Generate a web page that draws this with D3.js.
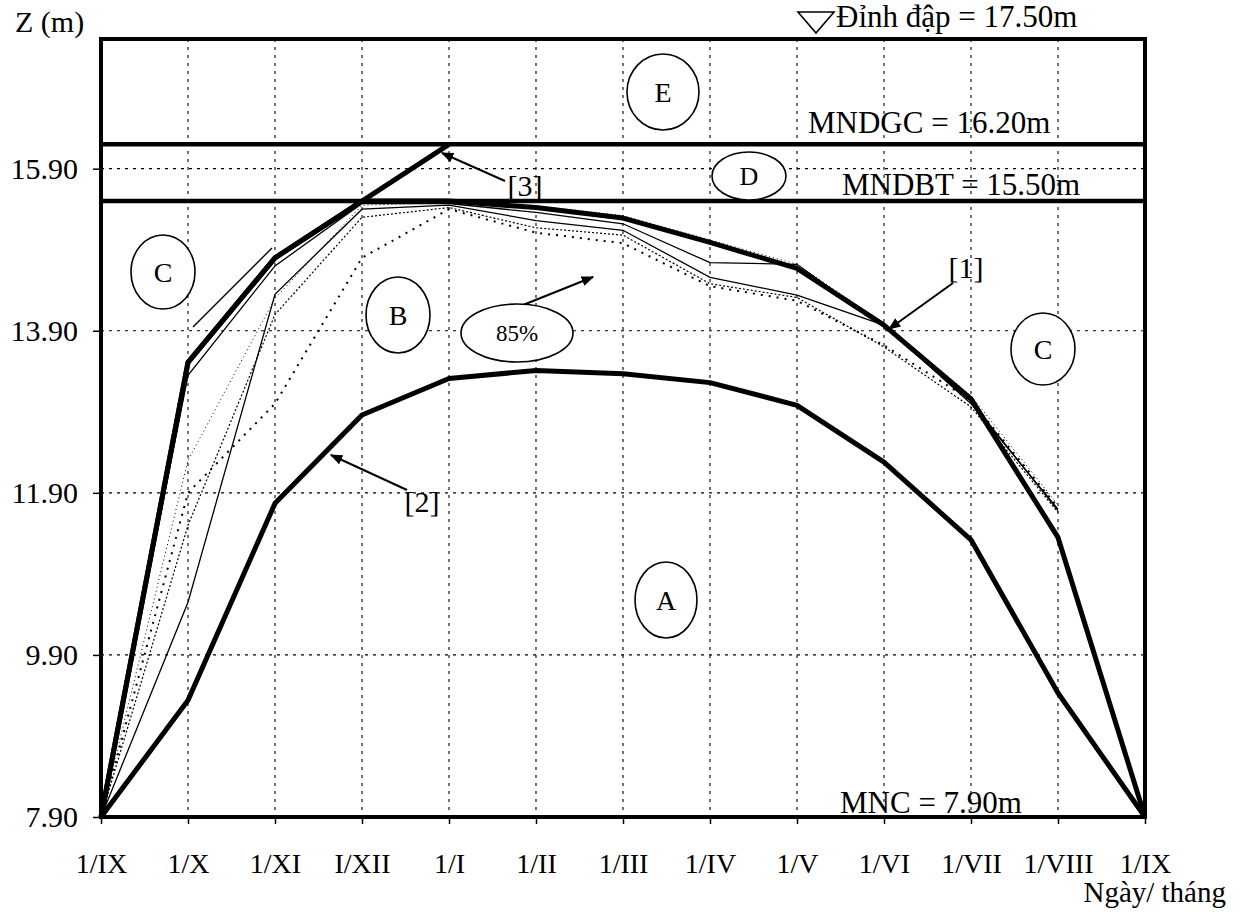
<!DOCTYPE html>
<html>
<head>
<meta charset="utf-8">
<script src="https://cdn.jsdelivr.net/npm/d3@7"></script>
<style>
  html, body { margin: 0; padding: 0; background: #fff; }
  svg { display: block; }
  text { font-family: "Liberation Serif", "Times New Roman", serif; fill: #000; }
</style>
</head>
<body>
<svg id="chart" width="1240" height="917"></svg>
<script>
// ---------- data ----------
const categories = ["1/IX","1/X","1/XI","I/XII","1/I","1/II","1/III","1/IV","1/V","1/VI","1/VII","1/VIII","1/IX"];
const yTicks = [7.9, 9.9, 11.9, 13.9, 15.9];
// [1] upper dispatching curve
const line1 = [7.9, 13.51, 14.80, 15.50, 15.50, 15.42, 15.29, 14.99, 14.67, 13.97, 13.06, 11.35, 7.9];
// [2] lower dispatching curve
const line2 = [7.9, 9.34, 11.77, 12.86, 13.31, 13.41, 13.37, 13.26, 12.98, 12.28, 11.32, 9.43, 7.9];
// [3] flood-limit branch
const line3 = [7.9, 13.51, 14.80, 15.50, 16.20];
// thin trajectories (85% frequency years), 1/IX .. 1/VIII
const thinA = [7.9, 13.35, 14.70, 15.47, 15.47, 15.36, 15.22, 14.74, 14.72, 13.95, 13.03, 11.68];
const thinB = [7.9, 10.55, 14.35, 15.40, 15.45, 15.26, 15.14, 14.56, 14.34, 13.97, 13.00, 11.70];
const thinC = [7.9, 11.50, 14.10, 15.30, 15.42, 15.17, 15.08, 14.48, 14.31, 13.70, 12.96, 11.66];
const thinD = [7.9, 11.90, 13.00, 14.80, 15.40, 15.11, 14.98, 14.45, 14.27, 13.72, 13.04, 11.72];
const thinE = [7.9, 12.30, 14.30, 15.45, 15.48, 15.44, 15.32, 15.02, 14.72, 13.99, 13.10, 11.75];
// reference levels
const MNDGC = 16.20, MNDBT = 15.50, MNC = 7.90, DINH = 17.50;

// ---------- setup ----------
const svg = d3.select("#chart");
const L = 101, R = 1145, B = 817, T = 39;
const x = d3.scaleLinear().domain([0, categories.length - 1]).range([L, R]);
const y = d3.scaleLinear().domain([7.9, 17.5]).range([B, T]);

// marker
svg.append("defs").append("marker")
  .attr("id", "arr").attr("viewBox", "0 0 10 8").attr("refX", 9).attr("refY", 4)
  .attr("markerWidth", 13).attr("markerHeight", 10).attr("markerUnits", "userSpaceOnUse")
  .attr("orient", "auto")
  .append("path").attr("d", "M0,0 L10,4 L0,8 Z").attr("fill", "#000");

// grid
const grid = svg.append("g");
d3.range(1, categories.length - 1).forEach(i => {
  grid.append("line").attr("x1", x(i)).attr("x2", x(i)).attr("y1", T).attr("y2", B)
    .attr("stroke", "#000").attr("stroke-width", 1.1).attr("stroke-dasharray", "3,5");
});
yTicks.slice(1).forEach(v => {
  grid.append("line").attr("x1", L).attr("x2", R).attr("y1", y(v)).attr("y2", y(v))
    .attr("stroke", "#000").attr("stroke-width", 1.1).attr("stroke-dasharray", "3,5");
});

// axes (ticks + labels)
const yAxis = d3.axisLeft(y).tickValues(yTicks).tickFormat(d3.format(".2f")).tickSize(8).tickPadding(15);
const gy = svg.append("g").attr("transform", `translate(${L},0)`).call(yAxis);
gy.select(".domain").remove();
gy.selectAll("text").attr("font-size", 30).attr("font-family", "Liberation Serif");
gy.selectAll("line").attr("stroke-width", 1.5);

const xAxis = d3.axisBottom(x).tickValues(d3.range(categories.length)).tickFormat(i => categories[i]).tickSize(7).tickPadding(29);
const gx = svg.append("g").attr("transform", `translate(0,${B})`).call(xAxis);
gx.select(".domain").remove();
gx.selectAll("text").attr("font-size", 28).attr("font-family", "Liberation Serif");
gx.selectAll("line").attr("stroke-width", 1.5);

// lines
const lineGen = d3.line().x((d, i) => x(i)).y(d => y(d));
const lines = svg.append("g").attr("fill", "none").attr("stroke", "#000");
lines.append("path").attr("d", lineGen(thinE)).attr("stroke-width", 1).attr("stroke-dasharray", "1,3");
lines.append("path").attr("d", lineGen(thinD)).attr("stroke-width", 2).attr("stroke-dasharray", "2,6");
lines.append("path").attr("d", lineGen(thinC)).attr("stroke-width", 1.2).attr("stroke-dasharray", "2,2");
lines.append("path").attr("d", lineGen(thinB)).attr("stroke-width", 1.3);
lines.append("path").attr("d", lineGen(thinA)).attr("stroke-width", 1.3);
lines.append("path").attr("d", lineGen(line2)).attr("stroke-width", 5).attr("stroke-linejoin", "round");
lines.append("path").attr("d", lineGen(line3)).attr("stroke-width", 5).attr("stroke-linejoin", "round");
lines.append("path").attr("d", lineGen(line1)).attr("stroke-width", 5).attr("stroke-linejoin", "round");

// frame and level lines
svg.append("rect").attr("x", L).attr("y", y(DINH)).attr("width", R - L).attr("height", B - y(DINH))
  .attr("fill", "none").attr("stroke", "#000").attr("stroke-width", 4);
[MNDGC, MNDBT].forEach(v => {
  svg.append("line").attr("x1", L).attr("x2", R).attr("y1", y(v)).attr("y2", y(v))
    .attr("stroke", "#000").attr("stroke-width", 4.5);
});

// annotation thin line near C
svg.append("line").attr("x1", 193).attr("y1", 327).attr("x2", 272).attr("y2", 248)
  .attr("stroke", "#000").attr("stroke-width", 1.4);

// arrows
const arrows = [
  [953, 283, 889, 329],   // [1]
  [407, 490, 331, 455],   // [2]
  [505, 181, 442, 153],   // [3]
  [523, 305, 593, 277]    // 85%
];
arrows.forEach(a => {
  svg.append("line").attr("x1", a[0]).attr("y1", a[1]).attr("x2", a[2]).attr("y2", a[3])
    .attr("stroke", "#000").attr("stroke-width", 2).attr("marker-end", "url(#arr)");
});

// ellipses with labels
const bubbles = [
  {t: "E", cx: 663, cy: 92, rx: 36, ry: 38, fs: 28},
  {t: "D", cx: 749, cy: 176, rx: 37, ry: 24, fs: 26},
  {t: "C", cx: 163, cy: 272, rx: 32, ry: 37, fs: 28},
  {t: "B", cx: 398, cy: 315, rx: 32, ry: 38, fs: 28},
  {t: "85%", cx: 517, cy: 333, rx: 56, ry: 29, fs: 23},
  {t: "A", cx: 666, cy: 600, rx: 31, ry: 38, fs: 28},
  {t: "C", cx: 1043, cy: 349, rx: 32, ry: 36, fs: 28}
];
bubbles.forEach(b => {
  svg.append("ellipse").attr("cx", b.cx).attr("cy", b.cy).attr("rx", b.rx).attr("ry", b.ry)
    .attr("fill", "#fff").attr("stroke", "#000").attr("stroke-width", 1.6);
  svg.append("text").attr("x", b.cx).attr("y", b.cy).attr("dy", "0.35em")
    .attr("text-anchor", "middle").attr("font-size", b.fs).text(b.t);
});

// texts
const txt = (s, xx, yy, fs, anchor) => svg.append("text").attr("x", xx).attr("y", yy)
  .attr("font-size", fs).attr("text-anchor", anchor || "start").text(s);
txt("Z (m)", 15, 32, 30);
txt("Đỉnh đập = 17.50m", 836, 27, 31);
txt("MNDGC = 16.20m", 808, 133, 31);
txt("MNDBT = 15.50m", 842, 195, 31);
txt("MNC = 7.90m", 840, 813, 31);
txt("Ngày/ tháng", 1226, 902, 29, "end");
txt("[1]", 966, 278, 30, "middle");
txt("[2]", 422, 512, 30, "middle");
txt("[3]", 525, 196, 30, "middle");

// dam crest triangle
svg.append("path").attr("d", "M798,12 L834,12 L816,33 Z").attr("fill", "none")
  .attr("stroke", "#000").attr("stroke-width", 1.6);
</script>
</body>
</html>
